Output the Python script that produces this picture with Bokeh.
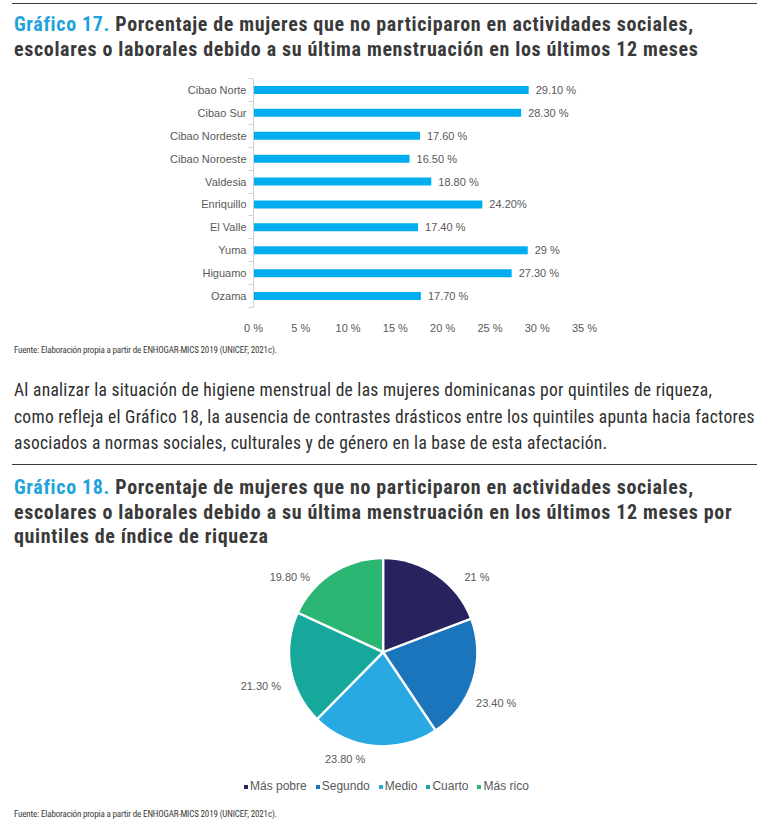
import math
from bokeh.plotting import figure
from bokeh.models import (Div, Range1d, LinearAxis, FixedTicker, Legend, LegendItem)
from bokeh.layouts import column
from bokeh.embed import file_html
from bokeh.resources import INLINE
from bokeh.core.properties import value

# ---------------- data ----------------
regions = ["Cibao Norte", "Cibao Sur", "Cibao Nordeste", "Cibao Noroeste", "Valdesia",
           "Enriquillo", "El Valle", "Yuma", "Higuamo", "Ozama"]
region_pct = [29.1, 28.3, 17.6, 16.5, 18.8, 24.2, 17.4, 29.0, 27.3, 17.7]
region_labels = ["29.10 %", "28.30 %", "17.60 %", "16.50 %", "18.80 %",
                 "24.20%", "17.40 %", "29 %", "27.30 %", "17.70 %"]
x_ticks = [0, 5, 10, 15, 20, 25, 30, 35]
x_tick_labels = ["0 %", "5 %", "10 %", "15 %", "20 %", "25 %", "30 %", "35 %"]

quintiles = ["Más pobre", "Segundo", "Medio", "Cuarto", "Más rico"]
quintile_pct = [21.0, 23.4, 23.8, 21.3, 19.8]
quintile_labels = ["21 %", "23.40 %", "23.80 %", "21.30 %", "19.80 %"]

# ---------------- styles ----------------
quintile_colors = ["#27235e", "#1b75bc", "#29a9e1", "#16a89b", "#2bb673"]
label_angle_deg = [51.4, 114.3, 199.7, 254.4, 308.9]   # clockwise from top
label_dist = [120, 124, 113, 127, 120]
BAR = "#00aeef"
GRAY = "#595959"
DARK = "#3a3a3a"
BLUE = "#1fa3dd"
FONT = "'Liberation Sans Narrow','Arial Narrow','Roboto Condensed','Liberation Sans',sans-serif"
W = 772

SOURCE = "Fuente: Elaboración propia a partir de ENHOGAR-MICS 2019 (UNICEF, 2021c)."


def abs_div(top, left, inner, css=""):
    return (f'<div style="position:absolute;top:{top}px;left:{left}px;white-space:nowrap;'
            f'font-family:{FONT};{css}">{inner}</div>')


def rule(top):
    return (f'<div style="position:absolute;top:{top}px;left:12px;width:745px;height:0;'
            f'border-top:1.5px solid {DARK};"></div>')


def box(h, inner):
    return Div(text=f'<div style="position:relative;width:{W}px;height:{h}px;overflow:hidden;">{inner}</div>',
               width=W, height=h, margin=0)


title_css = f"font-weight:bold;font-size:20px;letter-spacing:0.65px;line-height:24.5px;color:{DARK};"
src_css = f"font-size:9px;letter-spacing:-0.15px;line-height:14px;color:{DARK};"
para_css = f"font-size:17.5px;letter-spacing:0.28px;line-height:26.5px;color:#2e2e2e;"

div1 = box(68, rule(3) + abs_div(12, 14,
           f'<span style="color:{BLUE}">Gráfico 17.</span> Porcentaje de mujeres que no participaron en actividades sociales,<br>'
           'escolares o laborales debido a su última menstruación en los últimos 12 meses', title_css))

# ---------------- bar chart ----------------
n = len(regions)
ypos = [n - 0.5 - i for i in range(n)]          # category slots, top to bottom

p1 = figure(width=W, height=268, y_range=Range1d(0, n), x_range=Range1d(0, 35),
            y_axis_type=None, output_backend="svg", toolbar_location=None,
            min_border_left=253, min_border_right=188, min_border_top=10, min_border_bottom=29)
p1.frame_align = False
p1.outline_line_color = None
p1.grid.visible = False
p1.background_fill_color = None
p1.border_fill_color = None

bax = LinearAxis(ticker=FixedTicker(ticks=list(range(n + 1)), minor_ticks=[]),
                 major_label_overrides={i: "" for i in range(n + 1)},
                 major_label_standoff=0, major_tick_out=5, major_tick_in=0,
                 minor_tick_out=0, minor_tick_in=0,
                 axis_line_color="#d0d0d0", major_tick_line_color="#d0d0d0")
p1.add_layout(bax, "left")
cax = LinearAxis(ticker=FixedTicker(ticks=ypos, minor_ticks=[]),
                 major_label_overrides=dict(zip(ypos, regions)),
                 major_tick_out=0, major_tick_in=0, minor_tick_out=0, minor_tick_in=0,
                 axis_line_color=None, major_tick_line_color=None, major_label_standoff=2,
                 major_label_text_font_size="11px", major_label_text_color=GRAY,
                 major_label_text_font="Liberation Sans")
p1.add_layout(cax, "left")

xa = p1.xaxis[0]
xa.ticker = FixedTicker(ticks=x_ticks, minor_ticks=[])
xa.major_label_overrides = dict(zip(x_ticks, x_tick_labels))
xa.axis_line_color = None
xa.major_tick_line_color = None
xa.minor_tick_line_color = None
xa.major_label_standoff = 8
xa.major_label_text_font_size = "11px"
xa.major_label_text_color = GRAY
xa.major_label_text_font = "Liberation Sans"

p1.hbar(y=ypos, left=0, right=region_pct, height=0.35, fill_color=BAR, line_color=None)
p1.text(x=region_pct, y=ypos, text=region_labels, x_offset=7, text_baseline="middle",
        text_align="left", text_font_size="11px", text_color=GRAY,
        text_font=value("Liberation Sans"))

# ---------------- middle text ----------------
div2 = box(217,
           abs_div(7, 14, SOURCE, src_css) +
           abs_div(41, 14,
                   "Al analizar la situación de higiene menstrual de las mujeres dominicanas por quintiles de riqueza,<br>"
                   "como refleja el Gráfico 18, la ausencia de contrastes drásticos entre los quintiles apunta hacia factores<br>"
                   "asociados a normas sociales, culturales y de género en la base de esta afectación.", para_css) +
           rule(128) +
           abs_div(139, 14,
                   f'<span style="color:{BLUE}">Gráfico 18.</span> Porcentaje de mujeres que no participaron en actividades sociales,<br>'
                   "escolares o laborales debido a su última menstruación en los últimos 12 meses por<br>"
                   "quintiles de índice de riqueza", title_css))

# ---------------- pie chart ----------------
R = 93
p2 = figure(width=W, height=249, x_range=Range1d(-382.7, W - 382.7), y_range=Range1d(-150.3, 98.7),
            x_axis_type=None, y_axis_type=None, output_backend="svg", toolbar_location=None,
            min_border=0)
p2.frame_align = False
p2.outline_line_color = None
p2.background_fill_color = None
p2.border_fill_color = None

total = sum(quintile_pct)
cum = 0.0
renderers = []
bounds = []
for name, v, c in zip(quintiles, quintile_pct, quintile_colors):
    a0 = math.pi / 2 - 2 * math.pi * cum / total
    a1 = math.pi / 2 - 2 * math.pi * (cum + v) / total
    bounds.append(a0)
    r = p2.wedge(x=0, y=0, radius=R, start_angle=a0, end_angle=a1, direction="clock",
                 fill_color=c, line_color=None)
    renderers.append((name, r))
    cum += v

p2.segment(x0=[0] * len(bounds), y0=[0] * len(bounds),
           x1=[(R + 2) * math.cos(a) for a in bounds], y1=[(R + 2) * math.sin(a) for a in bounds],
           line_color="white", line_width=2.5)

lx = [d * math.sin(math.radians(a)) for a, d in zip(label_angle_deg, label_dist)]
ly = [d * math.cos(math.radians(a)) for a, d in zip(label_angle_deg, label_dist)]
p2.text(x=lx, y=ly, text=quintile_labels, text_align="center", text_baseline="middle",
        text_font_size="11px", text_color=GRAY, text_font=value("Liberation Sans"))

legend = Legend(items=[LegendItem(label=n_, renderers=[r]) for n_, r in renderers],
                orientation="horizontal", location=(243, 9), glyph_width=5, glyph_height=5,
                label_standoff=2, spacing=8, padding=0, margin=0, border_line_color=None,
                background_fill_alpha=0, label_text_font_size="12px", label_text_color=GRAY,
                label_height=14, label_text_font="Liberation Sans")
p2.add_layout(legend, "center")

div3 = box(24, abs_div(5, 14, SOURCE, src_css))

layout = column(div1, p1, div2, p2, div3, spacing=0)
open("out.html", "w").write(file_html(layout, INLINE))
